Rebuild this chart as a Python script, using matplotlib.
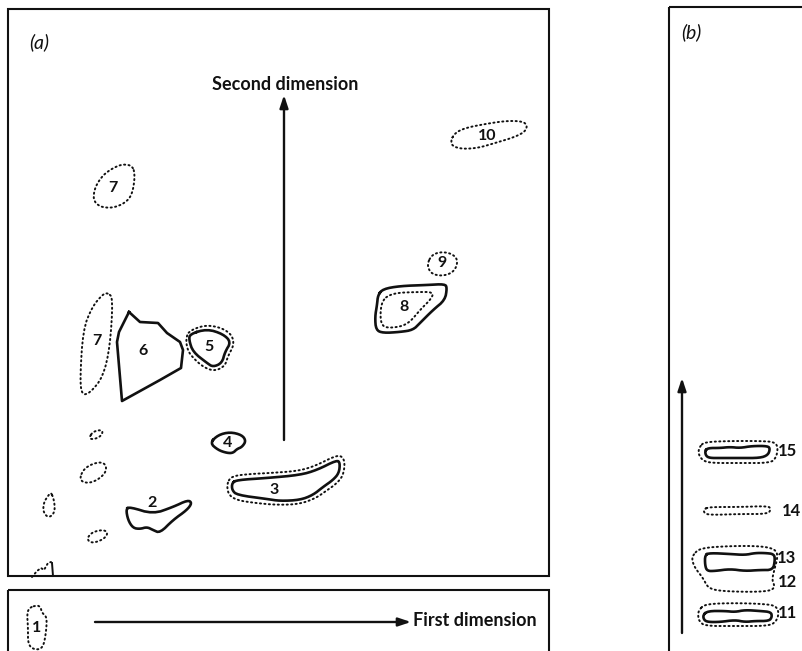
import numpy as np
import matplotlib
matplotlib.use("Agg")
import matplotlib.pyplot as plt
from matplotlib.patches import Rectangle

# ── spot outlines, paper coordinates (x right, y down) ───────────────────────
# panel (a): solid = stained spot, dotted = faint spot / halo
spot10_dot = [(451, 140), (455, 133), (465, 128), (485, 124), (505, 121), (520, 121), (527, 124),
              (526, 131), (515, 137), (495, 143), (478, 148), (462, 149), (452, 146)]
spot7a_dot = [(133, 166), (135, 177), (132, 195), (125, 203), (113, 208), (100, 207), (93, 200),
              (95, 187), (103, 175), (113, 168), (123, 164)]
spot9_dot = [(428, 262), (432, 255), (440, 252), (450, 253), (457, 258), (457, 266), (452, 273),
             (442, 276), (432, 274), (428, 268)]
spot8_sol = [(378, 295), (383, 289), (400, 286), (427, 285), (445, 284), (447, 288), (445, 300),
             (433, 310), (420, 323), (413, 330), (400, 332), (383, 333), (376, 330), (375, 317),
             (377, 305)]
spot8_dot = [(382, 300), (393, 293), (417, 292), (433, 292), (432, 298), (420, 310), (410, 322),
             (400, 327), (383, 328), (380, 317)]
spot7b_dot = [(108, 293), (113, 298), (110, 347), (103, 377), (90, 393), (82, 395), (80, 380),
              (83, 330), (92, 307), (103, 294)]
spot6_sol = [(129, 312), (140, 322), (158, 323), (167, 333), (180, 342), (183, 350), (181, 368),
             (160, 380), (122, 401), (117, 342), (119, 332), (125, 320)]
spot5_sol = [(190, 334), (207, 329), (223, 334), (231, 342), (225, 352), (222, 363), (213, 367),
             (207, 363), (193, 352), (189, 340)]
spot5_dot = [(186, 335), (193, 329), (207, 325), (222, 328), (232, 335), (234, 345), (228, 356),
             (225, 366), (215, 371), (205, 368), (195, 360), (187, 350)]
spot4_sol = [(210, 443), (218, 435), (230, 432), (242, 435), (246, 441), (242, 447), (237, 449),
             (233, 453), (227, 453), (218, 450)]
spot3_sol = [(232, 483), (237, 480), (267, 478), (300, 475), (317, 470), (337, 460), (340, 463),
             (339, 473), (333, 480), (323, 487), (313, 495), (300, 500), (280, 501), (267, 499),
             (237, 495), (232, 490)]
spot3_dot = [(227, 483), (232, 476), (250, 474), (270, 473), (298, 471), (315, 466), (335, 456),
             (342, 456), (345, 463), (343, 476), (336, 484), (326, 491), (316, 498), (300, 504),
             (278, 505), (255, 503), (236, 500), (228, 494)]
spot2_sol = [(126, 509), (130, 507), (153, 514), (173, 507), (188, 500), (192, 503), (187, 510),
             (173, 520), (160, 533), (153, 530), (147, 527), (140, 529), (133, 528), (128, 520)]
minor_dots = [
    [(90, 436), (93, 432), (99, 430), (103, 431), (101, 436), (95, 439), (90, 439)],
    [(80, 477), (84, 469), (92, 464), (101, 462), (106, 465), (106, 472), (99, 479), (90, 483),
     (82, 482)],
    [(51, 492), (54, 500), (55, 510), (52, 516), (47, 517), (43, 511), (44, 502), (48, 496)],
    [(87, 539), (91, 533), (100, 530), (107, 531), (107, 536), (100, 541), (91, 543)],
]
origin_frag = [(32, 577), (37, 571), (41, 568), (44, 570), (48, 563), (51, 562)]
spot1_dot = [(30, 607), (40, 605), (42, 613), (47, 617), (46, 633), (43, 648), (35, 650),
             (28, 645), (28, 627), (27, 613)]

# panel (b): one-dimensional run
spot15_sol = [(705, 451), (708, 448), (720, 448), (730, 447), (740, 448), (752, 446), (768, 446),
              (770, 449), (768, 455), (760, 458), (740, 458), (720, 458), (710, 458), (706, 456)]
spot15_dot = [(700, 446), (705, 442), (730, 441), (760, 441), (775, 442), (778, 448), (776, 458),
              (770, 463), (740, 463), (710, 463), (702, 460), (698, 453)]
spot14_dot = [(704, 509), (710, 507), (740, 507), (768, 506), (771, 509), (768, 514), (740, 514),
              (710, 515), (704, 513)]
spot13_sol = [(705, 555), (710, 553), (730, 554), (745, 555), (755, 553), (765, 553), (774, 554),
              (775, 560), (773, 570), (760, 570), (745, 571), (730, 569), (715, 571), (707, 571),
              (705, 565)]
spot12_dot = [(693, 555), (700, 548), (730, 546), (760, 546), (775, 549), (778, 556), (774, 571),
              (772, 580), (775, 587), (770, 591), (750, 592), (720, 591), (708, 588), (703, 578),
              (695, 568), (692, 560)]
spot11_sol = [(703, 615), (708, 611), (725, 611), (735, 612), (745, 610), (760, 611), (771, 612),
              (772, 617), (769, 621), (755, 621), (745, 622), (735, 620), (720, 622), (708, 622),
              (704, 620)]
spot11_dot = [(699, 610), (705, 604), (735, 603), (765, 604), (776, 606), (779, 613), (776, 622),
              (768, 626), (735, 626), (705, 626), (699, 621), (698, 615)]

labels_a = ["10", "7", "9", "8", "7", "6", "5", "4", "3", "2", "1"]
label_a_xy = [(487, 136), (113, 188), (442, 263), (404, 307), (97, 341), (143, 351), (209, 347),
              (228, 443), (274, 490), (152, 503), (37, 628)]
labels_b = ["15", "14", "13", "12", "11"]
label_b_xy = [(778, 451), (782, 511), (777, 558), (778, 582), (778, 613)]

# ── helpers ───────────────────────────────────────────────────────────────────
INK = "#111111"
DOT = dict(ls=(0, (0.6, 1.7)), lw=1.4, dash_capstyle="round")
SOLID = dict(ls="-", lw=1.9, solid_joinstyle="round")


def chaikin(pts, n=2):
    p = np.asarray(pts, float)
    for _ in range(n):
        q = np.roll(p, -1, axis=0)
        p = np.column_stack([0.75 * p + 0.25 * q, 0.25 * p + 0.75 * q]).reshape(-1, 2)
    return p


def outline(ax, pts, style, smooth=True):
    p = chaikin(pts) if smooth else np.asarray(pts, float)
    p = np.vstack([p, p[:1]])
    ax.plot(p[:, 0], p[:, 1], color=INK, **style)


def arrow(ax, x0, y0, x1, y1):
    ax.annotate("", xy=(x1, y1), xytext=(x0, y0),
                arrowprops=dict(arrowstyle="-|>,head_length=0.75,head_width=0.25",
                                lw=1.7, color=INK, shrinkA=0, shrinkB=0))


# ── figure ────────────────────────────────────────────────────────────────────
fig = plt.figure(figsize=(8.03, 6.51), dpi=100)
ax = fig.add_axes([0, 0, 1, 1])
ax.set_xlim(0, 803)
ax.set_ylim(651, 0)
ax.axis("off")

# frames
ax.add_patch(Rectangle((8, 9), 541, 567, fill=False, ec=INK, lw=1.5))
ax.add_patch(Rectangle((8, 590), 541, 80, fill=False, ec=INK, lw=1.5))
ax.add_patch(Rectangle((669, 7), 200, 680, fill=False, ec=INK, lw=1.5))

for pts in [spot10_dot, spot7a_dot, spot9_dot, spot8_dot, spot7b_dot, spot5_dot, spot3_dot,
            spot1_dot] + minor_dots:
    outline(ax, pts, DOT)
for pts in [spot8_sol, spot5_sol, spot4_sol, spot3_sol, spot2_sol]:
    outline(ax, pts, SOLID)
outline(ax, spot6_sol, SOLID, smooth=False)

fx, fy = zip(*origin_frag)
ax.plot(fx, fy, color=INK, **DOT)
ax.plot([52, 53], [563, 576], color=INK, lw=1.4)

for pts in [spot15_dot, spot14_dot, spot12_dot, spot11_dot]:
    outline(ax, pts, DOT)
for pts in [spot15_sol, spot13_sol, spot11_sol]:
    outline(ax, pts, SOLID)

# direction arrows
arrow(ax, 284, 440, 284, 95)
arrow(ax, 95, 622, 411, 622)
arrow(ax, 682, 633, 682, 378)

bold = dict(family="Lato", weight="bold", color=INK)
ax.text(285, 85, "Second dimension", ha="center", va="center", fontsize=13, **bold)
ax.text(413, 621, "First dimension", ha="left", va="center", fontsize=13, **bold)
ax.text(39, 42, "(a)", ha="center", va="center", fontsize=14, style="italic",
        family="Lato", color=INK)
ax.text(691, 32, "(b)", ha="center", va="center", fontsize=14, style="italic",
        family="Lato", color=INK)

for s, (x, y) in zip(labels_a, label_a_xy):
    ax.text(x, y, s, ha="center", va="center", fontsize=11.5, **bold)
for s, (x, y) in zip(labels_b, label_b_xy):
    ax.text(x, y, s, ha="left", va="center", fontsize=12, **bold)

fig.savefig("out.png", dpi=100, facecolor="white")
